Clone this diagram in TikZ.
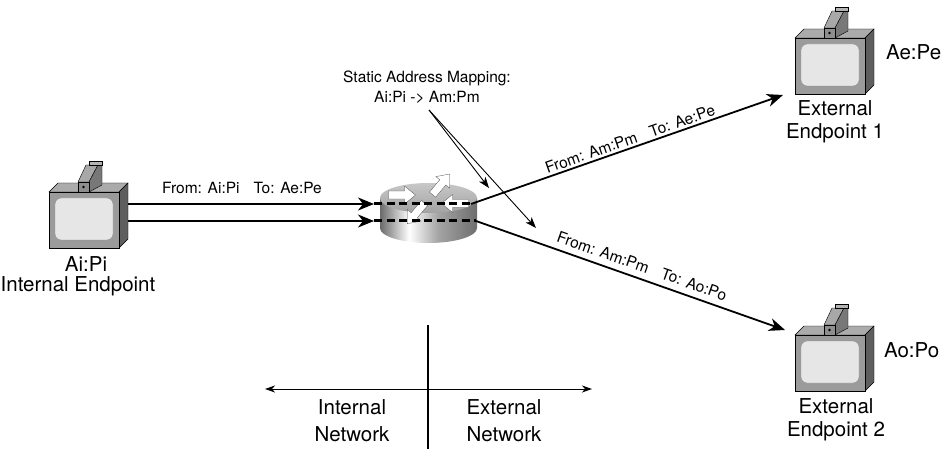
\documentclass[tikz,border=0pt]{standalone}
\usepackage{fontspec}
\setmainfont{TeX Gyre Heros}
\usetikzlibrary{arrows.meta}

\definecolor{boxfront}{HTML}{9B9B9B}
\definecolor{boxtop}{HTML}{ABABAB}
\definecolor{boxside}{HTML}{5E5E5E}
\definecolor{screenfill}{HTML}{E6E6E6}
\definecolor{camtop}{HTML}{A8A8A8}
\definecolor{camside}{HTML}{787878}
\definecolor{camfront}{HTML}{8E8E8E}
\definecolor{camcap}{HTML}{B4B4B4}
\definecolor{rleft}{HTML}{6A6A6A}
\definecolor{rmid}{HTML}{A4A4A4}
\definecolor{rright}{HTML}{6E6E6E}
\definecolor{rtoplight}{HTML}{C8C8C8}
\definecolor{rtopdark}{HTML}{A2A2A2}

% side of the router cylinder: dark rim, bright highlight left of centre
\pgfdeclarehorizontalshading{routerside}{100bp}{%
  color(0bp)=(rleft); color(25bp)=(rleft); color(40bp)=(white);
  color(55bp)=(rmid); color(75bp)=(rright); color(100bp)=(rright)}

\tikzset{
  % small video camera sitting on a terminal
  camera/.pic={
    \filldraw[fill=camtop, draw=black, line width=0.4pt]
      (0,-10) -- (8,-27) -- (20,-27) -- (11,-10) -- cycle;
    \filldraw[fill=camside, draw=black, line width=0.4pt]
      (11,-10) -- (20,-27) -- (24,-27) -- (24,-7) -- (11,0) -- cycle;
    \filldraw[fill=camcap, draw=black, line width=0.4pt]
      (11,-31) -- (24,-31) -- (24,-27) -- (11,-27) -- cycle;
    \filldraw[fill=camfront, draw=black, line width=0.4pt]
      (0,-10) rectangle (11,0);
    \fill[black] (5.5,-5) circle[radius=1.4pt];
  },
  % endpoint terminal, origin at the top left corner of its front face
  terminal/.pic={
    \filldraw[fill=boxtop, draw=black, line width=0.4pt]
      (0,0) -- (9,-9) -- (79,-9) -- (70,0) -- cycle;
    \filldraw[fill=boxside, draw=black, line width=0.4pt]
      (70,0) -- (79,-9) -- (79,47) -- (70,56) -- cycle;
    \filldraw[fill=boxfront, draw=black, line width=0.4pt]
      (0,0) rectangle (70,56);
    \filldraw[fill=screenfill, draw=black!45, line width=0.4pt, rounded corners=6pt]
      (6,6) rectangle (64,48);
    \pic at (29,0) {camera};
  },
  % flat white arrow on the router top
  flatarrow/.pic={
    \filldraw[fill=white, draw=black!70, line width=0.3pt]
      (0,-4) -- (16,-4) -- (16,-9) -- (27,0) -- (16,9) -- (16,4) -- (0,4) -- cycle;
  },
}

\begin{document}
\begin{tikzpicture}[x=1pt, y=-1pt,
  small/.style={font=\fontsize{15.5}{20}\selectfont, inner sep=1pt},
  big/.style={font=\fontsize{20.5}{23}\selectfont, inner sep=0pt, align=center},
  netlabel/.style={font=\fontsize{20.5}{27}\selectfont, inner sep=0pt, align=center},
  flow/.style={line width=1.8pt, -{Stealth[length=16pt, width=13pt, inset=5pt]}},
  pointer/.style={line width=0.9pt, -{Stealth[length=11pt, width=8pt, inset=3pt]}},
  span/.style={line width=1pt,
    {Stealth[length=10pt, width=7pt, inset=3pt]}-{Stealth[length=10pt, width=7pt, inset=3pt]}},
  tunnel/.style={line width=3pt, dash pattern=on 8pt off 4.5pt},
]
\useasboundingbox (0,0) rectangle (945,449);

% endpoints
\pic (ie) at (49,192) {terminal};
\pic (e1) at (795,38) {terminal};
\pic (e2) at (795,335) {terminal};

\node[big] (ie-addr) at (86,264) {Ai:Pi};
\node[big] (ie-name) at (78,286) {Internal Endpoint};
\node[big, anchor=west] (e1-addr) at (886,52) {Ae:Pe};
\node[big] (e1-name) at (835,122) {External\\Endpoint 1};
\node[big, anchor=west] (e2-addr) at (884,350) {Ao:Po};
\node[big] (e2-name) at (836,420) {External\\Endpoint 2};

% router
\node[minimum width=97pt, minimum height=60pt, inner sep=0pt] (router) at (428.5,213) {};
\path[shading=routerside]
  (380,198) -- (380,228) arc[start angle=180, end angle=360, x radius=48.5pt, y radius=15pt]
  -- (477,198) -- cycle;
\path[top color=rtoplight, bottom color=rtopdark]
  (428.5,198) ellipse[x radius=48.5pt, y radius=15pt];
\begin{scope}[shift={(428.5,198)}, yscale=0.42]
  \pic[rotate=0] at (-40,-7) {flatarrow};
  \pic[rotate=180] at (40,13) {flatarrow};
  \pic[rotate=50] at (4,-8) {flatarrow};
  \pic[rotate=230] at (-4,12) {flatarrow};
\end{scope}

% connector ends
\coordinate (ie-o1) at (128,204);
\coordinate (ie-o2) at (128,221);
\coordinate (r-i1) at (374,204);
\coordinate (r-i2) at (374,221);
\coordinate (r-o1) at (471,204);
\coordinate (r-o2) at (476,221);
\coordinate (e1-in) at (783,95);
\coordinate (e2-in) at (785,330);

% traffic
\draw[flow] (ie-o1) -- (r-i1);
\draw[flow] (ie-o2) -- (r-i2);
\node[small] (lbl-in) at (242,188) {From: Ai:Pi\hspace{0.9em}To: Ae:Pe};
\draw[tunnel] (r-i1) -- (r-o1);
\draw[tunnel] (r-i2) -- (r-o2);
\draw[flow] (r-o1) -- (e1-in);
\draw[flow] (r-o2) -- (e2-in);
\node[small, rotate=19.3] (lbl-e1) at (630,139) {From: Am:Pm\hspace{0.9em}To: Ae:Pe};
\node[small, rotate=-19.4] (lbl-e2) at (642,266) {From: Am:Pm\hspace{0.9em}To: Ao:Po};

% static mapping callout
\node[small, align=center] (map) at (427,87) {Static Address Mapping:\\Ai:Pi -> Am:Pm};
\coordinate (m-src) at (429,110);
\coordinate (m-t1) at (489,188);
\coordinate (m-t2) at (536,228);
\draw[pointer] (m-src) -- (m-t1);
\draw[pointer] (m-src) -- (m-t2);

% network boundary
\coordinate (div-top) at (428,325);
\coordinate (div-bot) at (428,449);
\draw[line width=1.6pt] (div-top) -- (div-bot);
\coordinate (span-l) at (265,389);
\coordinate (span-r) at (592,389);
\draw[span] (span-l) -- (span-r);
\node[netlabel] (int-net) at (352,421) {Internal\\Network};
\node[netlabel] (ext-net) at (504,421) {External\\Network};
\end{tikzpicture}
\end{document}
